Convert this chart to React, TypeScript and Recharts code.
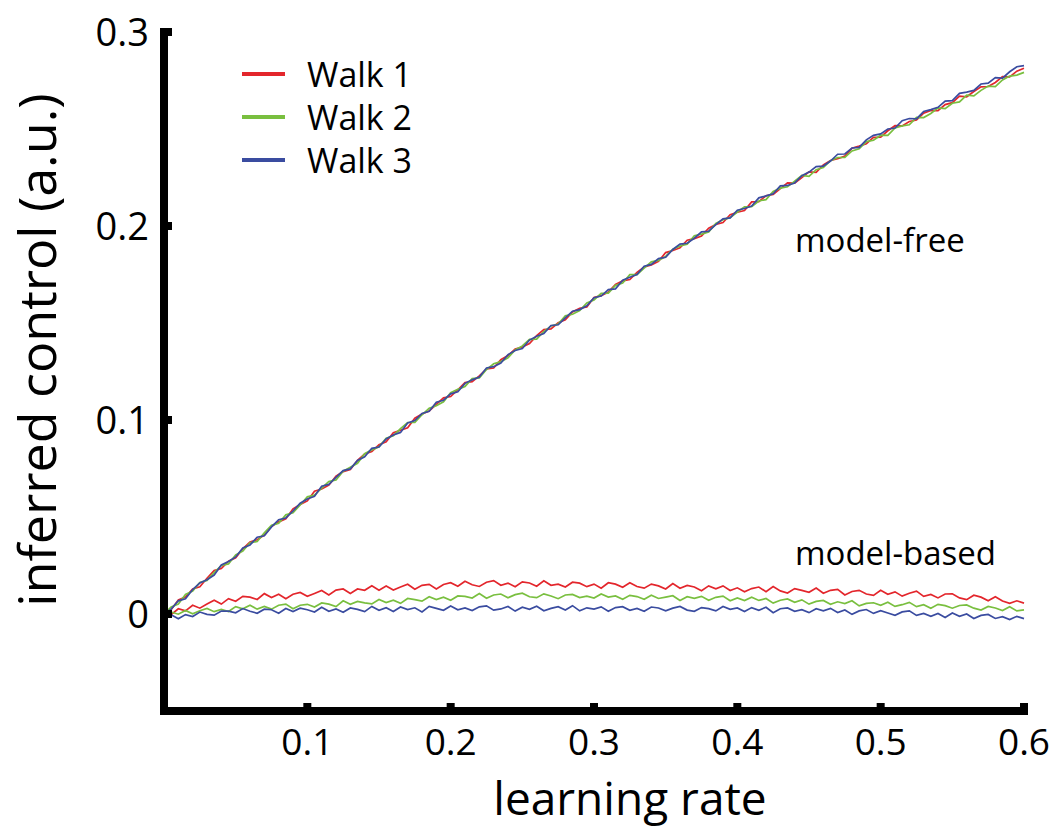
import { LineChart, Line, XAxis, YAxis, Legend } from 'recharts';

// ============================================
// Data
// ============================================

const LEARNING_RATE = [
  0, 0.005, 0.01, 0.015, 0.02, 0.025, 0.03, 0.035, 0.04, 0.045,
  0.05, 0.055, 0.06, 0.065, 0.07, 0.075, 0.08, 0.085, 0.09, 0.095,
  0.1, 0.105, 0.11, 0.115, 0.12, 0.125, 0.13, 0.135, 0.14, 0.145,
  0.15, 0.155, 0.16, 0.165, 0.17, 0.175, 0.18, 0.185, 0.19, 0.195,
  0.2, 0.205, 0.21, 0.215, 0.22, 0.225, 0.23, 0.235, 0.24, 0.245,
  0.25, 0.255, 0.26, 0.265, 0.27, 0.275, 0.28, 0.285, 0.29, 0.295,
  0.3, 0.305, 0.31, 0.315, 0.32, 0.325, 0.33, 0.335, 0.34, 0.345,
  0.35, 0.355, 0.36, 0.365, 0.37, 0.375, 0.38, 0.385, 0.39, 0.395,
  0.4, 0.405, 0.41, 0.415, 0.42, 0.425, 0.43, 0.435, 0.44, 0.445,
  0.45, 0.455, 0.46, 0.465, 0.47, 0.475, 0.48, 0.485, 0.49, 0.495,
  0.5, 0.505, 0.51, 0.515, 0.52, 0.525, 0.53, 0.535, 0.54, 0.545,
  0.55, 0.555, 0.56, 0.565, 0.57, 0.575, 0.58, 0.585, 0.59, 0.595, 0.6,
];

// model-free curves
const WALK1_FREE = [
  0, 0.0022, 0.0072, 0.0087, 0.0129, 0.014, 0.0184, 0.0224, 0.0234, 0.0272,
  0.0289, 0.0336, 0.0371, 0.0383, 0.0407, 0.0451, 0.0475, 0.0491, 0.0542, 0.0564,
  0.0583, 0.0633, 0.0644, 0.0664, 0.071, 0.0734, 0.0745, 0.0792, 0.0825, 0.0837,
  0.0872, 0.0888, 0.0934, 0.0947, 0.096, 0.1009, 0.1031, 0.1046, 0.1081, 0.1114,
  0.1121, 0.1156, 0.1193, 0.1198, 0.1227, 0.1263, 0.1268, 0.1311, 0.1332, 0.1366,
  0.1376, 0.1394, 0.1435, 0.1466, 0.147, 0.1501, 0.1516, 0.1557, 0.1576, 0.1583,
  0.1632, 0.1641, 0.1659, 0.1699, 0.1717, 0.1724, 0.1761, 0.1789, 0.1799, 0.1818,
  0.1863, 0.1874, 0.1888, 0.1927, 0.1935, 0.1948, 0.1989, 0.2008, 0.2018, 0.2058,
  0.2071, 0.208, 0.2124, 0.2126, 0.2156, 0.2163, 0.2193, 0.2222, 0.2221, 0.2249,
  0.2279, 0.2277, 0.2315, 0.2338, 0.2347, 0.236, 0.2401, 0.2412, 0.2424, 0.2457,
  0.2458, 0.2491, 0.2517, 0.2516, 0.2539, 0.2546, 0.2582, 0.2595, 0.2595, 0.2626,
  0.2636, 0.2669, 0.2666, 0.2693, 0.2717, 0.2719, 0.274, 0.277, 0.2769, 0.2798, 0.2813,
];

const WALK2_FREE = [
  0, 0.0036, 0.0051, 0.0101, 0.0118, 0.0163, 0.0173, 0.0213, 0.025, 0.0258,
  0.0305, 0.0325, 0.0367, 0.0374, 0.0418, 0.0457, 0.0468, 0.0511, 0.0522, 0.0562,
  0.0604, 0.0613, 0.0649, 0.0683, 0.0691, 0.0736, 0.0756, 0.0777, 0.0826, 0.0846,
  0.0862, 0.0906, 0.0919, 0.0955, 0.0987, 0.0988, 0.1027, 0.1061, 0.1073, 0.1094,
  0.1141, 0.1158, 0.1173, 0.1213, 0.1217, 0.126, 0.129, 0.1301, 0.1321, 0.1361,
  0.1382, 0.1416, 0.1417, 0.1456, 0.1485, 0.1494, 0.1537, 0.1545, 0.1564, 0.1603,
  0.1619, 0.1653, 0.1654, 0.1694, 0.1706, 0.1749, 0.1749, 0.1783, 0.1815, 0.1823,
  0.1843, 0.188, 0.1897, 0.1906, 0.195, 0.1958, 0.1969, 0.2013, 0.2032, 0.2043,
  0.2072, 0.2099, 0.21, 0.2129, 0.2136, 0.2178, 0.2195, 0.2202, 0.2231, 0.2261,
  0.2256, 0.229, 0.2301, 0.2337, 0.2353, 0.2354, 0.2387, 0.2398, 0.2435, 0.2442,
  0.2468, 0.2467, 0.2505, 0.2516, 0.2522, 0.256, 0.2559, 0.258, 0.2609, 0.2605,
  0.2633, 0.264, 0.2675, 0.2671, 0.2699, 0.2721, 0.2718, 0.2753, 0.2773, 0.2778, 0.2792,
];

const WALK3_FREE = [
  0, 0.0025, 0.0068, 0.0078, 0.0126, 0.016, 0.0177, 0.0201, 0.0253, 0.0271,
  0.0294, 0.034, 0.0356, 0.0396, 0.0403, 0.0449, 0.0486, 0.0495, 0.0531, 0.0571,
  0.0593, 0.0607, 0.0659, 0.0668, 0.0704, 0.0739, 0.0748, 0.0791, 0.081, 0.0854,
  0.0861, 0.0902, 0.0923, 0.0936, 0.0985, 0.0997, 0.1034, 0.1045, 0.1092, 0.1102,
  0.1135, 0.1145, 0.1189, 0.1207, 0.1222, 0.1268, 0.1275, 0.1294, 0.1337, 0.1358,
  0.1368, 0.1412, 0.1432, 0.1446, 0.1487, 0.1491, 0.1526, 0.1561, 0.1569, 0.1589,
  0.163, 0.1639, 0.1672, 0.1676, 0.1721, 0.1736, 0.175, 0.1793, 0.1802, 0.1832,
  0.1839, 0.1879, 0.1907, 0.1911, 0.1937, 0.197, 0.1973, 0.2007, 0.2037, 0.2042,
  0.2081, 0.209, 0.2103, 0.2145, 0.2155, 0.2166, 0.2207, 0.2209, 0.2222, 0.2259,
  0.2278, 0.2306, 0.2309, 0.2335, 0.237, 0.2371, 0.2402, 0.2405, 0.2444, 0.2467,
  0.2475, 0.25, 0.2505, 0.2543, 0.2554, 0.2552, 0.259, 0.26, 0.2612, 0.2644,
  0.2646, 0.2684, 0.269, 0.2699, 0.2732, 0.2736, 0.2765, 0.2762, 0.2795, 0.2821, 0.2827,
];

// model-based curves
const WALK1_BASED = [
  0, -0.0003, 0.0027, 0.0016, 0.0045, 0.003, 0.0051, 0.0071, 0.0051, 0.0079,
  0.0066, 0.0091, 0.0087, 0.0075, 0.0105, 0.0085, 0.0102, 0.0079, 0.0102, 0.0111,
  0.0091, 0.0106, 0.0121, 0.0098, 0.0123, 0.0129, 0.0106, 0.0129, 0.0122, 0.0146,
  0.0123, 0.0144, 0.0124, 0.0139, 0.0153, 0.0128, 0.0148, 0.0153, 0.0129, 0.0152,
  0.0161, 0.0143, 0.0169, 0.0151, 0.0142, 0.0164, 0.0172, 0.0148, 0.0159, 0.0141,
  0.0166, 0.016, 0.0143, 0.0171, 0.0148, 0.0154, 0.0139, 0.0164, 0.0159, 0.0141,
  0.0154, 0.0133, 0.0161, 0.0154, 0.0138, 0.0161, 0.0142, 0.0133, 0.0154, 0.0145,
  0.0129, 0.0157, 0.0133, 0.0147, 0.0139, 0.012, 0.0145, 0.013, 0.0145, 0.0121,
  0.0135, 0.0115, 0.0131, 0.0139, 0.0115, 0.0142, 0.0119, 0.0108, 0.0131, 0.0122,
  0.0112, 0.0134, 0.0107, 0.0122, 0.0127, 0.0098, 0.0116, 0.0122, 0.0103, 0.0096,
  0.0122, 0.0102, 0.0114, 0.0092, 0.0107, 0.0118, 0.0091, 0.0101, 0.0083, 0.0103,
  0.0104, 0.0083, 0.0074, 0.0097, 0.0087, 0.0068, 0.0089, 0.0067, 0.0055, 0.0068, 0.0056,
];

const WALK2_BASED = [
  0, 0.001, -0.0001, 0.0018, 0.0001, 0.0017, 0.0029, 0.0012, 0.0024, 0.0013,
  0.0038, 0.0027, 0.0045, 0.0025, 0.0039, 0.0025, 0.0045, 0.0051, 0.0027, 0.0045,
  0.005, 0.0036, 0.0057, 0.0051, 0.0038, 0.0068, 0.005, 0.0065, 0.0057, 0.0052,
  0.0075, 0.0059, 0.0071, 0.0055, 0.008, 0.0074, 0.0066, 0.0089, 0.0074, 0.0087,
  0.0071, 0.0093, 0.0091, 0.0082, 0.0105, 0.0081, 0.0098, 0.0103, 0.0084, 0.01,
  0.0107, 0.0089, 0.0084, 0.0104, 0.0093, 0.0079, 0.0098, 0.0101, 0.0085, 0.0092,
  0.0082, 0.0103, 0.0087, 0.0093, 0.0076, 0.0096, 0.009, 0.0076, 0.0097, 0.008,
  0.0087, 0.0094, 0.007, 0.0089, 0.0081, 0.0091, 0.0071, 0.0086, 0.0092, 0.0068,
  0.0083, 0.0069, 0.0087, 0.007, 0.008, 0.0056, 0.0071, 0.0078, 0.006, 0.0073,
  0.0051, 0.0065, 0.007, 0.005, 0.0063, 0.0054, 0.0068, 0.0042, 0.0055, 0.0058,
  0.0045, 0.0061, 0.0039, 0.0048, 0.006, 0.0038, 0.0048, 0.003, 0.005, 0.0043,
  0.003, 0.0044, 0.0047, 0.003, 0.002, 0.0039, 0.0031, 0.0018, 0.0037, 0.0016, 0.0021,
];

const WALK3_BASED = [
  0, -0.0004, -0.0025, -0.0003, -0.0013, 0.001, -0.0002, -0.0006, 0.0015, 0.0015,
  0.0006, 0.0028, 0.0014, 0.0004, 0.0025, 0.0022, 0.0004, 0.0028, 0.0013, 0.003,
  0.0022, 0.001, 0.0035, 0.0014, 0.0026, 0.0009, 0.0031, 0.0024, 0.0012, 0.0039,
  0.0019, 0.0032, 0.0013, 0.0036, 0.0023, 0.0032, 0.0011, 0.0039, 0.0029, 0.0019,
  0.0041, 0.0022, 0.0031, 0.0018, 0.0037, 0.0042, 0.002, 0.0026, 0.0039, 0.0015,
  0.0035, 0.0024, 0.004, 0.0017, 0.0029, 0.0038, 0.0021, 0.0043, 0.0016, 0.0032,
  0.0025, 0.0037, 0.0014, 0.0033, 0.0038, 0.0019, 0.0029, 0.0014, 0.0036, 0.0031,
  0.0016, 0.003, 0.0039, 0.002, 0.0014, 0.0033, 0.0028, 0.0016, 0.0039, 0.0024,
  0.0031, 0.0013, 0.0033, 0.0019, 0.0035, 0.0007, 0.0027, 0.0031, 0.0014, 0.0022,
  0.0007, 0.0027, 0.0016, 0.0029, 0.0008, 0.0021, -0.0002, 0.0016, 0.0023, 0.0003,
  0.0017, 0.0005, -0.0007, 0.0011, 0.0016, -0.0007, 0.0003, -0.0012, 0.0003, -0.0018,
  0.0005, -0.0012, 0, -0.0023, -0.0007, -0.0002, -0.0023, -0.0014, -0.0029, -0.0012, -0.0024,
];

const X_TICKS = [0.1, 0.2, 0.3, 0.4, 0.5, 0.6];
const Y_TICKS = [0, 0.1, 0.2, 0.3];
const WALK_NAMES = ['Walk 1', 'Walk 2', 'Walk 3'];

// ============================================
// Styles
// ============================================

const FONT = '"Open Sans", "Noto Sans", sans-serif';
const RED = '#e3262c';
const GREEN = '#79bf3f';
const BLUE = '#3a4ca0';

const rows = LEARNING_RATE.map((lr, i) => ({
  lr,
  w1Free: WALK1_FREE[i],
  w2Free: WALK2_FREE[i],
  w3Free: WALK3_FREE[i],
  w1Based: WALK1_BASED[i],
  w2Based: WALK2_BASED[i],
  w3Based: WALK3_BASED[i],
}));

// inward tick stub + label below
function XTick({ x, y, payload }: any) {
  return (
    <g>
      <rect x={x - 4} y={y - 8} width={8} height={8} fill="#000" />
      <text x={x} y={y + 44} textAnchor="middle" fontSize={37} fontFamily={FONT} fill="#000">
        {payload.value}
      </text>
    </g>
  );
}

// inward tick stub + label to the left
function YTick({ x, y, payload }: any) {
  return (
    <g>
      <rect x={x} y={y - 4} width={8} height={8} fill="#000" />
      <text x={x - 15} y={y + 14} textAnchor="end" fontSize={38} fontFamily={FONT} fill="#000">
        {payload.value}
      </text>
    </g>
  );
}

// only the three model-free entries go in the key
function WalkLegend({ payload }: any) {
  const entries = (payload || []).filter((e: any) => WALK_NAMES.includes(e.value));
  return (
    <div>
      {entries.map((entry: any) => (
        <div key={entry.value} style={{ display: 'flex', alignItems: 'center', height: 43 }}>
          <span style={{ display: 'inline-block', width: 43, height: 4, background: entry.color, marginRight: 22 }} />
          <span style={{ fontSize: 34, fontFamily: FONT, color: '#000', whiteSpace: 'nowrap' }}>{entry.value}</span>
        </div>
      ))}
    </div>
  );
}

export default function App() {
  const lineProps = {
    type: 'linear' as const,
    dot: false,
    activeDot: false,
    strokeWidth: 1.7,
    isAnimationActive: false,
  };

  return (
    <div style={{ position: 'absolute', left: 0, top: 0, width: 1055, height: 830, background: '#fff', fontFamily: FONT }}>
      <LineChart width={1055} height={830} data={rows} margin={{ top: 32, right: 31, bottom: 59, left: 44 }}>
        <XAxis
          dataKey="lr"
          type="number"
          domain={[0, 0.6]}
          ticks={X_TICKS}
          height={60}
          axisLine={{ stroke: '#000', strokeWidth: 8, strokeLinecap: 'square' }}
          tickLine={false}
          tickSize={0}
          tickMargin={0}
          tick={XTick}
        />
        <YAxis
          type="number"
          domain={[-0.05, 0.3]}
          ticks={Y_TICKS}
          width={120}
          axisLine={{ stroke: '#000', strokeWidth: 8, strokeLinecap: 'square' }}
          tickLine={false}
          tickSize={0}
          tickMargin={0}
          tick={YTick}
        />
        <Legend
          layout="vertical"
          align="center"
          verticalAlign="middle"
          wrapperStyle={{ left: 242, top: 52, width: 220 }}
          content={WalkLegend}
        />

        <Line {...lineProps} dataKey="w1Free" name="Walk 1" stroke={RED} />
        <Line {...lineProps} dataKey="w2Free" name="Walk 2" stroke={GREEN} />
        <Line {...lineProps} dataKey="w3Free" name="Walk 3" stroke={BLUE} />
        <Line {...lineProps} dataKey="w1Based" name="Walk 1 model-based" stroke={RED} legendType="none" />
        <Line {...lineProps} dataKey="w2Based" name="Walk 2 model-based" stroke={GREEN} legendType="none" />
        <Line {...lineProps} dataKey="w3Based" name="Walk 3 model-based" stroke={BLUE} legendType="none" />

        <text x={795} y={252} fontSize={33} fontFamily={FONT} fill="#000">model-free</text>
        <text x={795} y={565} fontSize={33} fontFamily={FONT} fill="#000">model-based</text>
        <text x={630} y={815} textAnchor="middle" fontSize={46} fontFamily={FONT} fill="#000">learning rate</text>
        <text
          x={56}
          y={350}
          textAnchor="middle"
          fontSize={52}
          fontFamily={FONT}
          fill="#000"
          transform="rotate(-90, 56, 350)"
        >
          inferred control (a.u.)
        </text>
      </LineChart>
    </div>
  );
}
